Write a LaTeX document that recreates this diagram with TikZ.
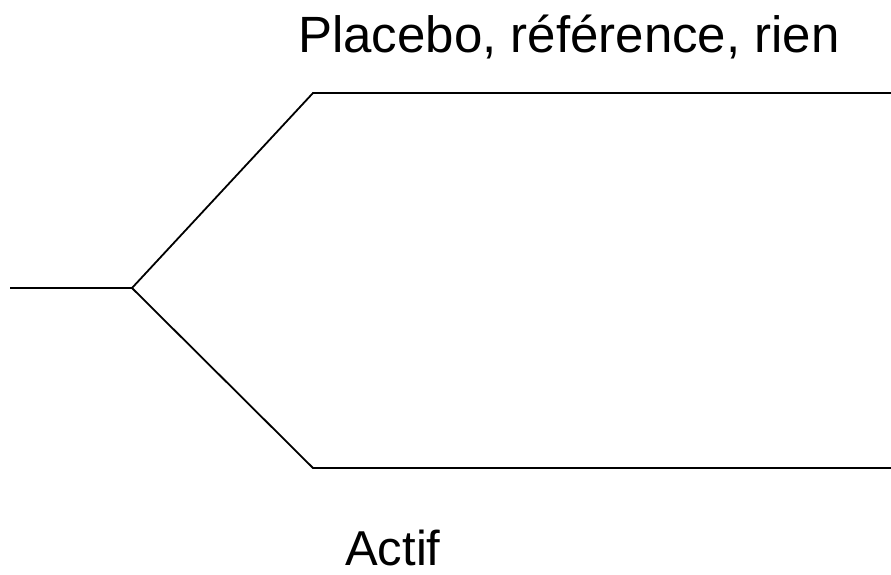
\documentclass[tikz,border=0pt]{standalone}
\usepackage{fontspec}
\setmainfont{Liberation Sans}
\tikzset{branch/.style={line width=1.8pt,line join=miter},
lbl/.style={font=\fontsize{51}{60}\selectfont,inner sep=0pt},
lblb/.style={font=\fontsize{49}{58}\selectfont,inner sep=0pt}}
\begin{document}
\begin{tikzpicture}[x=1pt,y=-1pt]
\useasboundingbox (0,0) rectangle (891,575);
\coordinate (in) at (10,288);
\coordinate (fork) at (132,288);
\coordinate (up) at (313,93);
\coordinate (upend) at (891,93);
\coordinate (lo) at (313,468);
\coordinate (loend) at (891,468);
\draw[branch] (in) -- (fork);
\draw[branch] (fork) -- (up) -- (upend);
\draw[branch] (fork) -- (lo) -- (loend);
\node[lbl,anchor=base] (t1) at (569,53) {Placebo, référence, rien};
\node[lblb,anchor=base west] (t2) at (345,565) {Actif};
\end{tikzpicture}
\end{document}
